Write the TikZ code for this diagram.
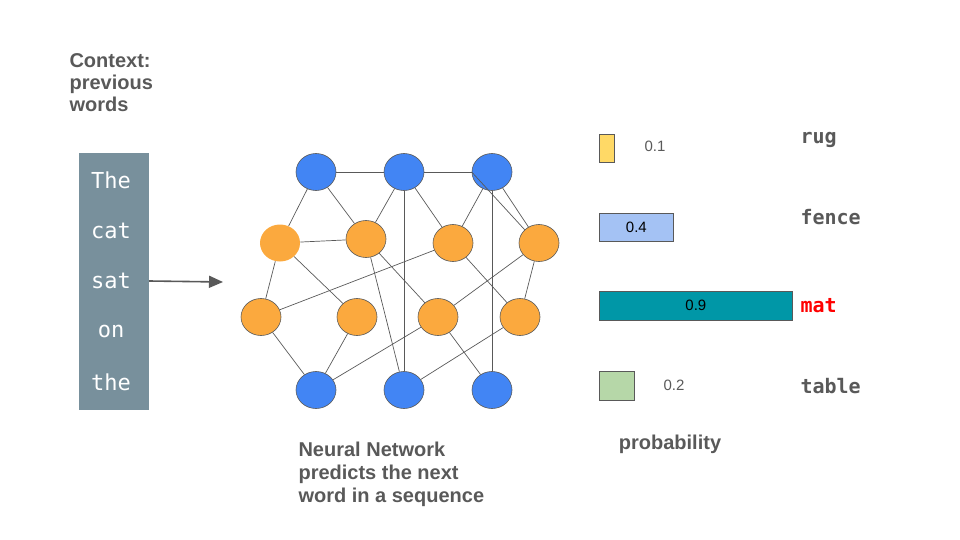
\documentclass[tikz,border=0pt]{standalone}
\usepackage{fontspec}
\setmainfont{Liberation Sans}
\newfontfamily\wordfont{DejaVu Sans Mono}
\usetikzlibrary{positioning,arrows.meta}
\definecolor{nnblue}{HTML}{4285F4}
\definecolor{nnorange}{HTML}{FBA93E}
\definecolor{edgegray}{HTML}{595959}
\definecolor{boxgray}{HTML}{78909C}
\definecolor{txtgray}{HTML}{595959}
\tikzset{
  unit/.style={ellipse,minimum width=40pt,minimum height=37pt,draw=edgegray,line width=0.6pt,inner sep=0pt},
  inp/.style={unit,fill=nnblue},
  hid/.style={unit,fill=nnorange},
  bar/.style={draw=edgegray,line width=0.8pt,anchor=west,inner sep=0pt,minimum height=28pt},
  head/.style={font=\fontsize{20}{24}\selectfont\bfseries,text=txtgray,align=left},
  word/.style={font=\wordfont\fontsize{22}{24}\selectfont,text=white},
  cls/.style={font=\wordfont\bfseries\fontsize{20}{22}\selectfont,text=txtgray,anchor=west},
  num/.style={font=\fontsize{15}{18}\selectfont,text=txtgray}
}
\usetikzlibrary{shapes.geometric}
\begin{document}
\begin{tikzpicture}[x=1pt,y=-1pt]
	\useasboundingbox (0,0) rectangle (960,540);
	% context
	\node[head,anchor=north west] (ctx) at (66,50) {Context:\\[-2pt]previous\\[-2pt]words};
	\node[fill=boxgray,minimum width=70pt,minimum height=257pt,inner sep=0pt] (box) at (114,281.5) {};
	\foreach \w [count=\i] in {The,cat,sat,on,the}
		\node[word] (w\i) at (111,180+50.5*\i-50.5) {\w};
	\coordinate (in) at (223,282);
	\draw[-{Triangle[length=14pt,width=12pt]},edgegray,line width=1.6pt] (box.east |- w3) -- (in);
	% network
	\node[inp] (t1) at (316,172) {};
	\node[inp] (t2) at (404,172) {};
	\node[inp] (t3) at (492,172) {};
	\node[unit,fill=nnorange,draw=none] (a1) at (280,243) {};
	\node[hid] (a2) at (366,239) {};
	\node[hid] (a3) at (453,243) {};
	\node[hid] (a4) at (539,243) {};
	\node[hid] (b1) at (261,317) {};
	\node[hid] (b2) at (357,317) {};
	\node[hid] (b3) at (438,317) {};
	\node[hid] (b4) at (520,317) {};
	\node[inp] (c1) at (316,390) {};
	\node[inp] (c2) at (404,390) {};
	\node[inp] (c3) at (492,390) {};
	\begin{scope}[on background layer/.style={},edgegray,line width=0.7pt]
		\foreach \p/\q in {t1/t2,t2/t3,t1/a1,t1/a2,t2/a2,t2/a3,t2/c2,t3/a3,t3/a4,t3/c3,
			a1/a2,a1/b1,a1/b2,a2/c2,a2/b3,a3/b1,a3/b4,a4/b3,a4/b4,
			b1/c1,b2/c1,b3/c1,b3/c3,b4/c2}
			\draw (\p) -- (\q);
		\draw (t3.west) -- (a4.north west);
	\end{scope}
	\node[head,anchor=north west] (nn) at (295,438) {Neural Network\\[-1pt]predicts the next\\[-1pt]word in a sequence};
	% probabilities
	\node[bar,fill=yellow!60!orange!60,fill={rgb,255:red,255;green,217;blue,102},minimum width=15pt] (p1) at (599,148.5) {};
	\node[bar,fill={rgb,255:red,164;green,194;blue,244},minimum width=74pt] (p2) at (599,227) {};
	\node[bar,fill={rgb,255:red,0;green,151;blue,167},minimum width=193pt,minimum height=29pt] (p3) at (599,305.5) {};
	\node[bar,fill={rgb,255:red,182;green,215;blue,168},minimum width=35pt,minimum height=29pt] (p4) at (599,385.5) {};
	\node[num] (n1) at (655,146) {0.1};
	\node[num,text=black] (n2) at (p2.center) {0.4};
	\node[num,text=black] (n3) at (p3.center) {0.9};
	\node[num] (n4) at (674,385) {0.2};
	\node[cls] (r1) at (797,140) {rug};
	\node[cls] (r2) at (797,217) {fence};
	\node[cls,text=red] (r3) at (797,306) {mat};
	\node[cls] (r4) at (797,386) {table};
	\node[head] (prob) at (670,444) {probability};
\end{tikzpicture}
\end{document}
